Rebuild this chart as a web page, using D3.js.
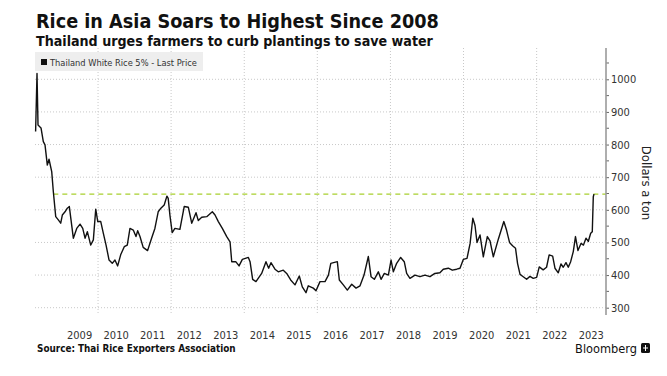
<!DOCTYPE html>
<html>
<head>
<meta charset="utf-8">
<script src="https://cdn.jsdelivr.net/npm/d3@7"></script>
<style>
  body { margin: 0; background: #fff; }
  svg { font-family: 'DejaVu Sans Condensed', 'DejaVu Sans', sans-serif; }
</style>
</head>
<body>
<svg width="667" height="376"></svg>
<script>
// Thai white rice 5%, dollars a ton
const priceDates = [
  "2008-04-17", "2008-05-01", "2008-05-11", "2008-06-10", "2008-07-03", "2008-07-20",
  "2008-08-12", "2008-08-29", "2008-09-25", "2008-10-11", "2008-11-04", "2008-11-30",
  "2008-12-24", "2009-01-09", "2009-02-05", "2009-02-28", "2009-03-20", "2009-04-29",
  "2009-06-02", "2009-07-05", "2009-08-01", "2009-08-24", "2009-09-16", "2009-10-20",
  "2009-11-15", "2009-12-09", "2009-12-29", "2010-01-28", "2010-02-23", "2010-03-22",
  "2010-04-21", "2010-05-23", "2010-06-19", "2010-07-16", "2010-08-15", "2010-09-20",
  "2010-10-20", "2010-11-16", "2010-12-19", "2011-01-15", "2011-02-01", "2011-02-24",
  "2011-03-28", "2011-05-11", "2011-06-20", "2011-07-23", "2011-08-25", "2011-09-21",
  "2011-10-24", "2011-11-20", "2011-12-03", "2011-12-20", "2012-01-12", "2012-02-08",
  "2012-03-29", "2012-05-11", "2012-06-21", "2012-07-25", "2012-09-06", "2012-09-29",
  "2012-11-02", "2012-12-22", "2013-02-16", "2013-03-15", "2013-04-17", "2013-05-27",
  "2013-07-10", "2013-08-12", "2013-08-29", "2013-10-08", "2013-11-10", "2013-12-13",
  "2014-02-11", "2014-02-28", "2014-03-26", "2014-04-28", "2014-06-24", "2014-08-06",
  "2014-09-02", "2014-09-25", "2014-11-04", "2014-12-07", "2015-01-26", "2015-03-01",
  "2015-04-10", "2015-05-23", "2015-07-05", "2015-08-04", "2015-09-10", "2015-10-03",
  "2015-11-22", "2015-12-19", "2016-01-28", "2016-03-18", "2016-04-21", "2016-05-15",
  "2016-07-19", "2016-08-08", "2016-09-17", "2016-10-27", "2016-12-10", "2017-01-22",
  "2017-03-03", "2017-04-12", "2017-05-25", "2017-06-21", "2017-07-24", "2017-09-02",
  "2017-09-29", "2017-11-01", "2017-12-11", "2018-01-07", "2018-01-30", "2018-03-04",
  "2018-04-13", "2018-05-19", "2018-06-12", "2018-07-15", "2018-09-03", "2018-10-23",
  "2018-12-12", "2019-01-31", "2019-03-21", "2019-05-10", "2019-06-13", "2019-08-02",
  "2019-09-11", "2019-10-25", "2019-11-27", "2019-12-30", "2020-02-05", "2020-03-07",
  "2020-04-03", "2020-04-25", "2020-05-15", "2020-06-14", "2020-07-17", "2020-08-26",
  "2020-09-22", "2020-10-25", "2020-12-14", "2021-02-07", "2021-03-06", "2021-04-05",
  "2021-05-05", "2021-06-04", "2021-06-24", "2021-07-19", "2021-08-20", "2021-09-23",
  "2021-10-26", "2021-11-28", "2022-01-01", "2022-01-27", "2022-03-07", "2022-04-10",
  "2022-05-06", "2022-06-10", "2022-07-03", "2022-08-05", "2022-09-01", "2022-09-24",
  "2022-10-21", "2022-11-13", "2022-12-07", "2023-01-02", "2023-01-24", "2023-02-18",
  "2023-03-20", "2023-04-14", "2023-05-09", "2023-06-01", "2023-06-25", "2023-07-11",
  "2023-07-21", "2023-07-28"
]

const priceValues = [
  840, 1018, 860, 851, 809, 799,
  737, 755, 717, 656, 579, 569,
  559, 584, 594, 605, 610, 513,
  543, 556, 543, 513, 533, 492,
  508, 602, 564, 564, 528, 492,
  446, 436, 446, 428, 462, 487,
  492, 543, 538, 518, 536, 518,
  485, 475, 513, 543, 594, 605,
  615, 642, 635, 584, 530, 543,
  540, 610, 608, 559, 591, 567,
  577, 579, 594, 584, 564, 543,
  518, 502, 441, 441, 428, 448,
  454, 441, 387, 380, 405, 441,
  421, 438, 418, 410, 415, 405,
  385, 370, 397, 364, 346, 367,
  360, 352, 380, 380, 400, 436,
  441, 385, 370, 354, 372, 360,
  367, 400, 457, 395, 387, 410,
  387, 405, 400, 446, 410, 436,
  454, 441, 405, 390, 400, 395,
  400, 395, 405, 407, 418, 421,
  415, 418, 421, 448, 451, 497,
  574, 552, 500, 523, 456, 518,
  505, 456, 510, 564, 538, 500,
  490, 482, 436, 402, 395, 387,
  396, 390, 393, 425, 416, 424,
  462, 458, 421, 407, 434, 424,
  438, 424, 441, 472, 518, 475,
  497, 492, 513, 503, 528, 533,
  640, 648
]

// dashed "highest since 2008" level
const refLevel = 648
const refStart = "2008-10-11"

const yearLabels = [2009, 2010, 2011, 2012, 2013, 2014, 2015, 2016, 2017, 2018, 2019, 2020, 2021, 2022, 2023]
const gridYears = [2010, 2012, 2014, 2016, 2018, 2020, 2022]
const yTicks = [300, 400, 500, 600, 700, 800, 900, 1000]
const yMinorTicks = [350, 450, 550, 650, 750, 850, 950, 1050]

const titleText = "Rice in Asia Soars to Highest Since 2008"
const subtitleText = "Thailand urges farmers to curb plantings to save water"
const legendText = "Thailand White Rice 5% - Last Price"
const sourceText = "Source: Thai Rice Exporters Association"
const unitText = "Dollars a ton"

// scale the font so a text run takes the width it has in the reference
function fitText(sel, width) {
  const size = parseFloat(sel.style("font-size"))
  const w = sel.node().getComputedTextLength()
  if (w > 0) sel.style("font-size", (size * width / w).toFixed(2) + "px")
  return sel
}

class RiceChart {
  constructor(selector) {
    const svg = d3.select(selector)
    const parse = d3.timeParse("%Y-%m-%d")

    this.data = priceDates.map((d, i) => ({ time: parse(d), amount: priceValues[i] }))

    // plot frame
    this.left = 35
    this.right = 606
    this.top = 48
    this.bottom = 315

    const xScale = d3.scaleTime()
      .domain([new Date(2008, 0, 1), new Date(2024, 0, 1)])
      .range([24.9, 609.7])

    const yScale = d3.scaleLinear()
      .domain([300, 1000])
      .range([307.7, 79.3])

    this.createGrid(svg, xScale, yScale)
    this.createReference(svg, xScale, yScale, parse(refStart))
    this.createLine(svg, xScale, yScale)
    this.createAxis(svg, xScale, yScale)
    this.createLegend(svg)
    this.createTexts(svg)
  }

  createGrid(svg, xScale, yScale) {
    const g = svg.append("g").attr("class", "grid")

    g.selectAll("line.h")
      .data(yTicks)
      .enter().append("line")
      .attr("class", "h")
      .attr("x1", this.left)
      .attr("x2", this.right)
      .attr("y1", d => yScale(d))
      .attr("y2", d => yScale(d))
      .attr("stroke", "#c8c8c8")
      .attr("stroke-width", 1)
      .attr("stroke-dasharray", "1,2")

    g.selectAll("line.v")
      .data(gridYears)
      .enter().append("line")
      .attr("class", "v")
      .attr("x1", d => xScale(new Date(d, 0, 1)))
      .attr("x2", d => xScale(new Date(d, 0, 1)))
      .attr("y1", this.top)
      .attr("y2", this.bottom)
      .attr("stroke", "#c8c8c8")
      .attr("stroke-width", 1)
      .attr("stroke-dasharray", "1,2")
  }

  createReference(svg, xScale, yScale, start) {
    svg.append("line")
      .attr("x1", xScale(start))
      .attr("x2", this.right)
      .attr("y1", yScale(refLevel))
      .attr("y2", yScale(refLevel))
      .attr("stroke", "#a8cf2e")
      .attr("stroke-width", 1.4)
      .attr("stroke-dasharray", "5,4")
  }

  createLine(svg, xScale, yScale) {
    const line = d3.line()
      .x(d => xScale(d.time))
      .y(d => yScale(d.amount))

    svg.append("path")
      .datum(this.data)
      .attr("fill", "none")
      .attr("stroke", "#111")
      .attr("stroke-width", 1.4)
      .attr("stroke-linejoin", "round")
      .attr("d", line)
  }

  createAxis(svg, xScale, yScale) {
    const axis = svg.append("g")
      .attr("transform", "translate(" + this.right + ",0)")
      .call(d3.axisRight(yScale)
        .tickValues(yTicks)
        .tickSize(3)
        .tickPadding(2)
        .tickFormat(d3.format("d")))

    axis.select(".domain").remove()
    axis.selectAll(".tick line").attr("stroke", "#666")
    axis.selectAll("text")
      .attr("fill", "#333")
      .style("font-size", "11px")
      .style("font-family", "'DejaVu Sans Condensed', 'DejaVu Sans', sans-serif")

    svg.append("g").selectAll("line")
      .data(yMinorTicks)
      .enter().append("line")
      .attr("x1", this.right)
      .attr("x2", this.right + 3)
      .attr("y1", d => yScale(d))
      .attr("y2", d => yScale(d))
      .attr("stroke", "#666")

    svg.append("line")
      .attr("x1", this.right)
      .attr("x2", this.right)
      .attr("y1", this.top)
      .attr("y2", this.bottom)
      .attr("stroke", "#9a9a9a")
      .attr("stroke-width", 1.6)

    // year labels sit in the middle of each year
    svg.append("g").selectAll("text")
      .data(yearLabels)
      .enter().append("text")
      .attr("x", d => xScale(new Date(d, 6, 1)))
      .attr("y", 339)
      .attr("text-anchor", "middle")
      .attr("fill", "#333")
      .style("font-size", "11px")
      .text(d => d)

    svg.append("text")
      .attr("transform", "translate(642," + 183 + ") rotate(90)")
      .attr("text-anchor", "middle")
      .attr("fill", "#222")
      .style("font-size", "13px")
      .text(unitText)
  }

  createLegend(svg) {
    const g = svg.append("g")

    g.append("rect")
      .attr("x", 35)
      .attr("y", 52)
      .attr("width", 168)
      .attr("height", 19)
      .attr("fill", "#eeeeee")

    g.append("rect")
      .attr("x", 41)
      .attr("y", 59)
      .attr("width", 6)
      .attr("height", 6)
      .attr("fill", "#111")

    const label = g.append("text")
      .attr("x", 50)
      .attr("y", 65.5)
      .attr("fill", "#333")
      .style("font-size", "9px")
      .text(legendText)
    fitText(label, 147)
  }

  createTexts(svg) {
    const title = svg.append("text")
      .attr("x", 36)
      .attr("y", 28)
      .attr("fill", "#111")
      .style("font-size", "19px")
      .style("font-weight", "bold")
      .text(titleText)
    fitText(title, 403)

    const subtitle = svg.append("text")
      .attr("x", 36)
      .attr("y", 46)
      .attr("fill", "#111")
      .style("font-size", "13.5px")
      .style("font-weight", "bold")
      .text(subtitleText)
    fitText(subtitle, 397)

    const source = svg.append("text")
      .attr("x", 37)
      .attr("y", 352)
      .attr("fill", "#111")
      .style("font-size", "9.5px")
      .style("font-weight", "bold")
      .text(sourceText)
    fitText(source, 199)

    const brand = svg.append("text")
      .attr("x", 637)
      .attr("y", 353)
      .attr("text-anchor", "end")
      .attr("fill", "#111")
      .style("font-size", "12.5px")
      .text("Bloomberg")
    fitText(brand, 62)

    // small terminal logo
    const logo = svg.append("g").attr("transform", "translate(641,343)")
    logo.append("rect")
      .attr("width", 9)
      .attr("height", 10)
      .attr("rx", 1.5)
      .attr("fill", "#111")
    logo.append("line")
      .attr("x1", 4.5).attr("x2", 4.5)
      .attr("y1", 2).attr("y2", 8)
      .attr("stroke", "#fff").attr("stroke-width", 1)
    logo.append("line")
      .attr("x1", 2).attr("x2", 7)
      .attr("y1", 5).attr("y2", 5)
      .attr("stroke", "#fff").attr("stroke-width", 1)
  }
}

new RiceChart("svg")
</script>
</body>
</html>
